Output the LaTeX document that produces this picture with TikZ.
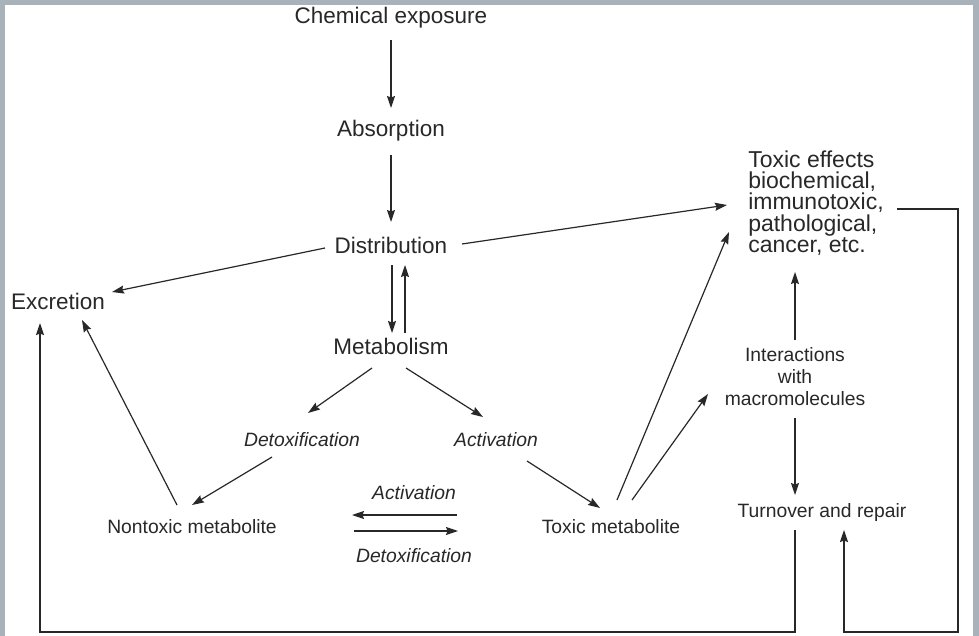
\documentclass[tikz,border=0pt]{standalone}
\usepackage{fontspec}
\setmainfont{Liberation Sans}
\usetikzlibrary{arrows.meta,calc}
\definecolor{frame}{RGB}{168,178,186}
\definecolor{ink}{RGB}{40,40,40}
\begin{document}
\begin{tikzpicture}[x=1pt,y=-1pt,
  every node/.style={inner sep=0pt,text=ink},
  big/.style={font=\fontsize{22.5}{27}\selectfont},
  small/.style={font=\fontsize{19.3}{22}\selectfont},
  smallit/.style={font=\fontsize{19.3}{22}\selectfont\itshape},
  effect/.style={font=\fontsize{23}{21.3}\selectfont,align=left},
  conn/.style={draw=ink,line width=1.2pt,-{Stealth[length=12pt,width=8pt,inset=1.5pt]}},
  loopline/.style={draw=black!65,line width=1.4pt}]
\useasboundingbox (0,0) rectangle (979,636);
\fill[frame] (0,0) rectangle (979,636);
\fill[white] (5,5) rectangle (973,636);

\node[big] (chem) at (391,18) {Chemical exposure};
\node[big] (abs) at (391,131) {Absorption};
\node[big] (dist) at (391,245) {Distribution};
\node[big] (metab) at (391,346) {Metabolism};
\node[big] (excr) at (58,301) {Excretion};
\node[smallit] (detox) at (302,440) {Detoxification};
\node[smallit] (activ) at (496,440) {Activation};
\node[small] (nontox) at (192,527) {Nontoxic metabolite};
\node[small] (toxm) at (611,527) {Toxic metabolite};
\node[smallit] (act2) at (414,493) {Activation};
\node[smallit] (det2) at (414,556) {Detoxification};
\node[effect] (eff) at (816,203) {Toxic effects\\biochemical,\\immunotoxic,\\pathological,\\cancer, etc.};
\node[small,align=center,font=\fontsize{19.3}{22}\selectfont] (inter) at (795,377) {Interactions\\with\\macromolecules};
\node[small] (turn) at (822,513) {Turnover and repair};

\draw[conn] ($(chem)+(0,22)$) -- ($(abs)+(0,-23)$);
\draw[conn] ($(abs)+(0,24)$) -- ($(dist)+(0,-23)$);
\draw[conn] ($(dist)+(1,20)$) -- ($(metab)+(1,-13)$);
\draw[conn] ($(metab)+(14,-13)$) -- ($(dist)+(14,20)$);
\draw[conn] ($(dist)+(-66,3)$) -- ($(excr)+(54,-9)$);
\draw[conn] ($(dist)+(71,-1)$) -- ($(eff)+(-89,2)$);
\draw[conn] ($(metab)+(-19,22)$) -- ($(detox)+(6,-27)$);
\draw[conn] ($(metab)+(15,22)$) -- ($(activ)+(-13,-23)$);
\draw[conn] ($(detox)+(-30,17)$) -- ($(nontox)+(0,-22)$);
\draw[conn] ($(activ)+(31,21)$) -- ($(toxm)+(-11,-19)$);
\draw[conn] ($(toxm)+(-154,-12)$) -- ($(nontox)+(160,-12)$);
\draw[conn] ($(nontox)+(162,4)$) -- ($(toxm)+(-153,4)$);
\draw[conn] ($(nontox)+(-15,-22)$) -- ($(excr)+(24,19)$);
\draw[conn] ($(toxm)+(6,-27)$) -- ($(eff)+(-87,29)$);
\draw[conn] ($(toxm)+(21,-27)$) -- ($(inter)+(-87,17)$);
\draw[conn] ($(inter)+(0,-37)$) -- ($(eff)+(-21,69)$);
\draw[conn] ($(inter)+(0,41)$) -- ($(turn)+(-27,-18)$);

\draw[loopline,-{Stealth[length=12pt,width=8pt,inset=1.5pt]},draw=ink] ($(turn)+(-27,17)$) -- ($(turn)+(-27,119)$) -| ($(excr)+(-18,22)$);
\draw[loopline,-{Stealth[length=12pt,width=8pt,inset=1.5pt]},draw=ink] ($(eff)+(81,6)$) -- ++(61,0) -- ++(0,423) -| ($(turn)+(22,17)$);
\end{tikzpicture}
\end{document}
